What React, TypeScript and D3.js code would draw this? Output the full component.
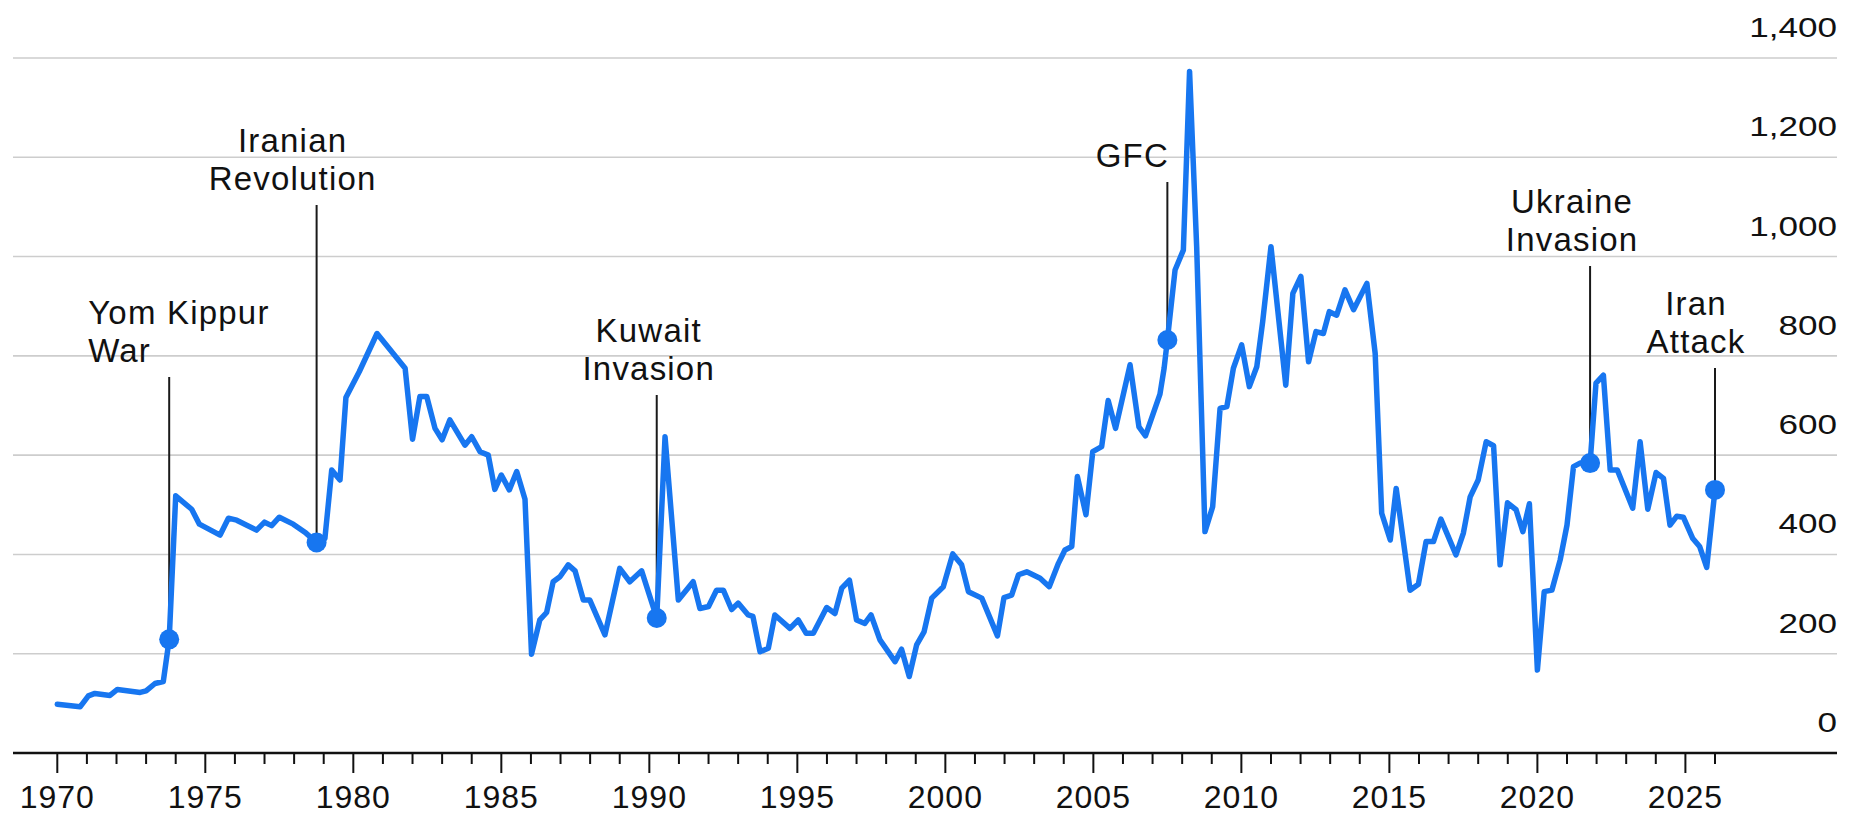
import React from "react";
import * as d3 from "d3";

// ---- data (decimal year, value) ----
const dates: number[] = [
  1970.0, 1970.77, 1971.05, 1971.27, 1971.78, 1972.03, 1972.8, 1973.0, 1973.3, 1973.58, 1973.78,
  1974.0, 1974.54, 1974.8, 1975.5, 1975.78, 1976.06, 1976.73, 1977.0, 1977.24, 1977.5, 1977.97,
  1978.4, 1978.76, 1979.04, 1979.27, 1979.55, 1979.75, 1980.2, 1980.8, 1981.75, 1982.0, 1982.25,
  1982.48, 1982.76, 1983.0, 1983.26, 1983.77, 1984.0, 1984.28, 1984.56, 1984.78, 1985.0, 1985.27,
  1985.52, 1985.8, 1986.02, 1986.3, 1986.53, 1986.75, 1986.98, 1987.26, 1987.49, 1987.77, 1987.99,
  1988.5, 1989.0, 1989.34, 1989.74, 1990.25, 1990.53, 1990.98, 1991.48, 1991.71, 1992.0, 1992.27,
  1992.5, 1992.78, 1993.0, 1993.34, 1993.5, 1993.74, 1994.02, 1994.24, 1994.75, 1995.03, 1995.3,
  1995.54, 1995.99, 1996.27, 1996.5, 1996.76, 1997.0, 1997.28, 1997.49, 1997.79, 1998.3, 1998.52,
  1998.78, 1999.03, 1999.28, 1999.54, 1999.93, 2000.25, 2000.55, 2000.78, 2001.23, 2001.76, 2001.98,
  2002.24, 2002.47, 2002.75, 2003.2, 2003.51, 2003.82, 2004.04, 2004.27, 2004.46, 2004.75, 2004.98,
  2005.28, 2005.5, 2005.75, 2006.24, 2006.54, 2006.76, 2007.25, 2007.39, 2007.5, 2007.76, 2008.04,
  2008.25, 2008.49, 2008.77, 2009.03, 2009.28, 2009.51, 2009.73, 2010.01, 2010.27, 2010.52, 2010.72,
  2011.0, 2011.5, 2011.74, 2012.01, 2012.27, 2012.52, 2012.77, 2012.97, 2013.22, 2013.5, 2013.79,
  2014.24, 2014.52, 2014.74, 2015.03, 2015.23, 2015.7, 2015.98, 2016.24, 2016.49, 2016.74, 2017.25,
  2017.5, 2017.73, 2018.0, 2018.27, 2018.52, 2018.74, 2018.99, 2019.28, 2019.51, 2019.73, 2020.0,
  2020.23, 2020.49, 2020.77, 2021.0, 2021.22, 2021.44, 2021.78, 2021.98, 2022.23, 2022.46, 2022.7,
  2023.22, 2023.47, 2023.73, 2024.01, 2024.26, 2024.48, 2024.71, 2024.93, 2025.25, 2025.48, 2025.72,
  2026.0,
];

const values: number[] = [
  98, 93, 115, 120, 116, 128, 122, 125, 140, 144, 229,
  518, 491, 461, 439, 473, 469, 449, 465, 458, 475, 461,
  443, 424, 432, 570, 550, 716, 768, 845, 775, 632, 718,
  718, 654, 631, 671, 620, 637, 607, 600, 531, 560, 530,
  567, 511, 199, 268, 283, 345, 355, 379, 367, 308, 308,
  238, 372, 345, 367, 272, 637, 308, 345, 291, 295, 328,
  328, 289, 302, 278, 275, 204, 211, 278, 251, 268, 241,
  241, 293, 281, 332, 348, 268, 261, 278, 228, 184, 209,
  154, 218, 244, 312, 335, 401, 379, 325, 312, 236, 313,
  318, 359, 365, 352, 335, 382, 409, 416, 557, 480, 607,
  617, 710, 654, 782, 657, 639, 723, 775, 832, 973, 1013,
  1373, 1020, 446, 496, 694, 698, 775, 822, 738, 778, 869,
  1020, 741, 926, 960, 788, 849, 845, 889, 882, 933, 893,
  946, 805, 483, 429, 533, 328, 340, 426, 426, 471, 399,
  443, 516, 550, 627, 619, 379, 504, 490, 446, 502, 167,
  325, 328, 389, 459, 577, 584, 584, 745, 761, 570, 570,
  493, 627, 491, 565, 553, 459, 477, 475, 432, 416, 374,
  530,
];

// ---- events ----
const eventLines: string[][] = [
  ["Yom Kippur", "War"],
  ["Iranian", "Revolution"],
  ["Kuwait", "Invasion"],
  ["GFC"],
  ["Ukraine", "Invasion"],
  ["Iran", "Attack"],
];
const eventDates: number[] = [1973.78, 1978.76, 1990.25, 2007.5, 2021.78, 2026.0];

// ---- axes ----
const yTicks: number[] = [0, 200, 400, 600, 800, 1000, 1200, 1400];
const xMajorTicks: number[] = [1970, 1975, 1980, 1985, 1990, 1995, 2000, 2005, 2010, 2015, 2020, 2025];
const xMinorTicks: number[] = d3.range(1970, 2027);

// ---- layout ----
const W = 1854;
const H = 814;
const LEFT = 13;
const RIGHT = 1837;
const BLUE = "#1776f0";
const INK = "#111";
const FONT = "'Liberation Sans', Arial, Helvetica, sans-serif";

// annotation label placement: anchor, dx from leader line, first baseline
const eventLayout = [
  { anchor: "start", dx: -81, y0: 324 },
  { anchor: "middle", dx: -24, y0: 152 },
  { anchor: "middle", dx: -8, y0: 342 },
  { anchor: "middle", dx: -35, y0: 167 },
  { anchor: "middle", dx: -18, y0: 213 },
  { anchor: "middle", dx: -19, y0: 315 },
];
const LINE_GAP = 38;

export default function App() {
  const x = d3.scaleLinear().domain([1970, 2026]).range([57.3, 1715.0]);
  const y = d3.scaleLinear().domain([0, 1400]).range([753, 58]);

  const pts: [number, number][] = dates.map((d, i) => [d, values[i]]);
  const line = d3
    .line<[number, number]>()
    .x((d) => x(d[0]))
    .y((d) => y(d[1]));

  const fmt = d3.format(",");

  return (
    <svg
      width={W}
      height={H}
      viewBox={`0 0 ${W} ${H}`}
      style={{ position: "absolute", left: 0, top: 0, background: "#fff" }}
    >
      <rect x={0} y={0} width={W} height={H} fill="#fff" />
      {/* gridlines */}
      {yTicks
        .filter((t) => t > 0)
        .map((t) => (
          <line key={"g" + t} x1={LEFT} x2={RIGHT} y1={y(t)} y2={y(t)} stroke="#cdcdcd" strokeWidth={1.6} />
        ))}
      {/* y labels */}
      {yTicks.map((t) => (
        <text
          key={"yl" + t}
          transform={`translate(${RIGHT},${y(t) - 21}) scale(1.3,1)`}
          textAnchor="end"
          fontFamily={FONT}
          fontSize={27}
          fill={INK}
        >
          {fmt(t)}
        </text>
      ))}
      {/* x axis */}
      <line x1={LEFT} x2={RIGHT} y1={y(0)} y2={y(0)} stroke="#111" strokeWidth={2.6} />
      {xMinorTicks.map((t) => (
        <line
          key={"t" + t}
          x1={x(t)}
          x2={x(t)}
          y1={y(0)}
          y2={y(0) + (t % 5 === 0 ? 20 : 11)}
          stroke="#111"
          strokeWidth={2}
        />
      ))}
      {xMajorTicks.map((t) => (
        <text
          key={"xl" + t}
          x={x(t)}
          y={808}
          textAnchor="middle"
          fontFamily={FONT}
          fontSize={32}
          letterSpacing={1}
          fill={INK}
        >
          {t}
        </text>
      ))}
      {/* annotation leader lines */}
      {eventDates.map((d, i) => {
        const idx = dates.indexOf(d);
        const lay = eventLayout[i];
        const lastBase = lay.y0 + (eventLines[i].length - 1) * LINE_GAP;
        return (
          <line
            key={"el" + i}
            x1={x(d)}
            x2={x(d)}
            y1={lastBase + 15}
            y2={y(values[idx])}
            stroke="#1a1a1a"
            strokeWidth={2}
          />
        );
      })}
      {/* series line */}
      <path d={line(pts) || ""} fill="none" stroke={BLUE} strokeWidth={5.5} strokeLinejoin="round" strokeLinecap="round" />
      {/* markers */}
      {eventDates.map((d, i) => {
        const idx = dates.indexOf(d);
        return <circle key={"m" + i} cx={x(d)} cy={y(values[idx])} r={10} fill={BLUE} />;
      })}
      {/* annotation labels */}
      {eventLines.map((lines, i) => {
        const lay = eventLayout[i];
        const lx = x(eventDates[i]) + lay.dx;
        return (
          <text
            key={"et" + i}
            textAnchor={lay.anchor as any}
            fontFamily={FONT}
            fontSize={33}
            letterSpacing={1.2}
            fill={INK}
          >
            {lines.map((s, j) => (
              <tspan key={j} x={lx} y={lay.y0 + j * LINE_GAP}>
                {s}
              </tspan>
            ))}
          </text>
        );
      })}
    </svg>
  );
}
